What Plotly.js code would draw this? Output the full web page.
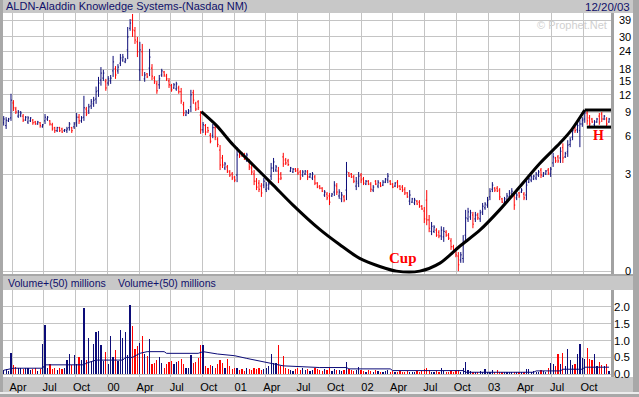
<!DOCTYPE html>
<html>
<head>
<meta charset="utf-8">
<script src="https://cdn.plot.ly/plotly-3.0.1.min.js"></script>
<style>html,body{margin:0;padding:0;background:#c8c8c8;}#chart{width:639px;height:397px;}</style>
</head>
<body>
<div id="chart"></div>
<script>
// ---- data (weekly bars) ----
const firstWeek = Date.UTC(1999, 2, 8);
const open = [7.55,7.2,7.8,8.2,10.5,9.5,8.45,8.6,8.45,7.9,7.65,7.8,7.9,7.65,7.4,7.55,7.05,7.8,8.05,7.8,7.3,6.95,6.6,6.95,6.8,6.6,6.6,6.95,6.95,7.05,7.55,8.3,7.8,8.3,9.5,9.2,10.0,10.35,11.2,12.8,15.2,15.7,14.8,14.5,15.0,17.6,18.2,17.6,19.9,20.9,20.3,24.5,34.3,39.0,33.0,27.8,17.9,23.8,15.5,16.8,18.4,18.4,15.7,14.3,14.1,16.5,17.3,16.2,15.0,13.9,13.4,13.2,13.4,12.6,10.2,8.6,8.9,9.85,12.4,10.35,10.7,8.6,6.7,7.2,6.95,6.1,6.1,6.95,5.7,4.7,4.07,3.37,3.44,3.12,3.0,2.83,2.94,4.55,4.47,4.3,3.92,3.78,3.37,3.0,2.6,2.5,2.35,2.4,2.2,2.25,2.88,3.37,3.24,3.18,3.0,4.15,3.92,3.85,3.18,3.12,3.3,3.24,3.12,2.94,3.0,3.12,2.83,2.77,2.83,2.5,2.35,2.25,1.94,1.98,1.9,1.9,2.07,2.35,1.9,1.78,1.86,2.16,3.06,3.0,2.83,2.35,2.5,2.94,2.72,2.45,2.6,2.45,2.16,2.6,2.35,2.5,2.4,2.55,2.66,2.6,2.45,2.35,2.55,2.35,2.3,2.2,2.03,1.69,1.65,1.62,1.69,1.65,1.5,1.33,1.73,1.05,0.74,0.74,0.77,0.72,0.63,0.61,0.72,0.65,0.52,0.4,0.34,0.23,0.165,0.19,0.65,1.08,1.14,1.2,1.08,1.2,1.08,1.3,1.44,1.54,1.86,2.2,2.25,2.25,2.16,1.78,1.62,1.73,1.86,1.98,1.9,1.82,2.03,2.07,1.98,1.94,2.55,2.66,2.72,2.77,2.94,3.24,2.88,3.0,3.24,3.0,3.71,4.07,4.15,4.07,4.9,4.15,4.55,5.2,5.9,6.95,6.7,6.6,7.4,8.05,8.9,8.2,8.05,7.3,7.65,8.45,8.75,8.05,8.05,7.65];
const high = [8.45,8.3,8.2,12.2,11.0,9.85,9.35,9.2,8.75,8.45,8.45,8.3,8.05,7.8,7.8,7.65,7.4,8.75,8.45,7.9,7.55,7.05,7.05,7.05,6.95,6.8,7.05,7.65,7.05,7.65,8.9,8.75,8.45,11.8,9.85,10.35,11.2,11.6,13.7,16.0,18.7,17.9,15.5,16.2,16.5,22.3,19.0,19.6,23.0,23.0,21.6,35.0,39.6,42.8,35.0,30.0,27.8,26.9,17.3,17.0,24.9,19.6,16.2,15.0,16.5,18.2,17.6,16.8,15.7,14.3,14.5,14.8,13.9,13.4,10.7,9.35,9.5,13.0,13.0,10.7,11.0,9.2,7.65,7.4,7.05,6.35,7.4,7.3,5.9,5.14,4.3,3.78,3.57,3.24,3.12,2.88,4.95,4.7,4.55,4.47,4.47,4.0,3.57,3.24,2.77,2.66,2.5,2.77,2.55,2.55,3.71,4.07,3.57,3.44,3.12,4.47,4.07,4.0,3.44,3.37,3.37,3.37,3.24,3.24,3.24,3.24,3.06,3.12,2.94,2.55,2.4,2.3,2.16,2.07,2.03,2.03,2.6,2.5,2.2,2.07,1.94,3.78,3.12,3.06,2.94,2.83,3.12,3.06,2.83,2.66,2.66,2.55,2.4,2.66,2.66,2.55,2.66,2.77,3.06,2.66,2.5,2.55,2.66,2.4,2.4,2.3,2.07,2.16,1.82,1.82,1.73,1.73,1.54,1.47,2.16,1.2,0.99,0.9,0.82,0.77,0.87,0.85,0.77,0.7,0.58,0.44,0.38,0.3,0.3,0.65,1.37,1.44,1.37,1.3,1.3,1.27,1.37,1.62,1.65,1.86,2.25,2.55,2.3,2.35,2.25,1.82,1.86,2.03,2.16,2.25,2.07,2.03,2.07,2.25,2.07,2.66,2.77,2.94,2.94,3.12,3.24,3.37,3.12,3.24,3.37,3.44,4.47,4.15,4.3,4.95,5.3,4.55,5.6,5.9,6.95,7.05,7.55,7.9,8.3,9.35,9.35,8.6,8.2,7.9,8.2,8.9,9.05,8.6,8.3,8.2];
const low = [7.2,6.8,7.65,7.8,9.2,8.75,8.2,8.3,7.65,7.8,7.4,7.65,7.3,7.3,7.3,6.95,6.95,7.4,7.8,7.2,6.6,6.35,6.45,6.45,6.35,6.45,6.35,6.6,6.35,6.8,7.05,7.4,7.55,7.8,8.45,8.75,9.5,9.85,10.35,11.6,13.9,15.0,12.8,13.9,14.3,16.0,15.5,16.8,19.0,20.3,19.9,21.2,33.0,30.0,26.9,21.9,15.0,16.2,14.8,15.7,16.2,15.2,14.3,12.2,13.2,16.0,16.0,15.0,13.4,12.6,13.2,12.8,12.2,10.35,8.45,8.45,8.75,9.05,10.35,9.2,9.35,6.25,6.35,6.1,6.35,5.3,5.8,5.6,4.95,3.24,3.37,3.24,3.06,2.83,2.66,2.55,2.55,4.07,4.15,3.92,3.78,3.24,2.94,2.4,2.16,2.07,1.86,2.25,2.07,2.16,2.66,3.12,3.12,2.5,2.66,3.44,3.57,3.5,3.12,3.06,3.12,2.94,2.66,2.83,2.94,2.66,2.77,2.66,2.4,2.25,2.2,2.07,1.86,1.73,1.54,1.86,1.9,1.94,1.78,1.65,1.65,1.73,2.83,2.77,2.5,2.16,2.3,2.5,2.4,2.4,2.4,2.07,2.07,2.4,2.25,2.3,2.35,2.5,2.5,2.4,2.25,2.3,2.25,2.16,2.07,1.94,1.82,1.54,1.62,1.54,1.54,1.44,1.37,0.96,0.9,0.72,0.65,0.7,0.61,0.58,0.54,0.5,0.61,0.54,0.34,0.3,0.21,0.0,0.12,0.12,0.5,0.99,1.05,0.82,0.99,1.05,0.99,1.2,1.37,1.44,1.73,2.07,2.07,2.07,1.73,1.62,1.54,1.62,1.73,1.86,1.37,1.73,1.82,2.03,1.73,1.73,2.5,2.55,2.66,2.66,2.83,2.77,2.83,2.94,2.94,2.83,3.44,3.71,3.71,3.71,3.71,4.07,4.15,4.95,5.6,6.35,6.35,4.95,7.05,7.55,7.3,7.05,7.55,7.05,7.55,7.3,7.65,7.9,7.05,7.55];
const close = [8.05,7.9,8.05,11.0,9.7,9.05,9.05,8.9,7.9,8.3,8.2,8.2,7.55,7.4,7.65,7.2,7.3,8.3,8.3,7.4,6.8,6.6,6.95,6.6,6.45,6.7,6.8,7.4,6.6,7.4,8.3,7.8,8.2,9.7,8.75,9.85,10.7,11.0,12.6,14.5,17.0,17.0,13.4,15.5,15.7,20.3,16.5,18.7,21.6,21.9,20.9,30.0,37.2,33.4,28.6,23.8,24.5,17.9,16.5,16.0,21.9,16.2,14.8,12.8,15.5,17.6,16.5,15.5,14.1,13.0,14.1,14.3,12.6,10.85,8.9,9.05,9.2,12.0,11.0,9.5,9.7,6.7,7.3,6.45,6.6,5.5,6.95,5.9,5.2,3.57,3.57,3.64,3.18,2.94,2.77,2.66,4.3,4.22,4.22,4.07,4.3,3.44,3.12,2.6,2.3,2.2,2.03,2.6,2.4,2.45,3.37,3.78,3.44,2.72,2.77,3.64,3.71,3.6,3.37,3.3,3.18,3.06,2.77,3.12,3.18,2.83,3.0,3.0,2.5,2.3,2.25,2.11,2.07,1.82,1.65,1.98,2.4,2.07,2.07,1.94,1.73,3.12,2.88,2.83,2.6,2.6,2.88,2.66,2.5,2.6,2.45,2.2,2.3,2.45,2.55,2.35,2.55,2.72,2.88,2.45,2.3,2.5,2.35,2.2,2.16,2.03,1.86,1.94,1.78,1.73,1.58,1.5,1.4,1.08,1.05,0.82,0.87,0.85,0.65,0.63,0.77,0.74,0.65,0.58,0.4,0.34,0.25,0.09,0.25,0.48,1.11,1.3,1.27,0.93,1.2,1.11,1.27,1.5,1.58,1.73,2.11,2.4,2.16,2.11,1.86,1.65,1.78,1.9,2.03,2.11,1.54,1.94,1.9,2.16,1.82,2.4,2.72,2.83,2.88,3.0,3.12,2.94,3.06,3.18,3.06,3.3,4.15,3.85,3.85,4.6,4.07,4.4,5.14,5.6,6.6,6.6,7.2,7.4,7.9,8.9,7.8,7.4,7.65,7.65,8.05,7.65,8.05,8.45,7.4,8.05];
const volume = [0.12,0.15,0.10,0.63,0.28,0.22,0.18,0.20,0.15,0.18,0.20,0.12,0.15,0.18,0.10,0.15,
0.90,1.46,0.20,0.30,0.15,0.20,0.12,0.18,0.15,0.20,0.42,0.60,0.28,0.57,0.30,0.50,
0.42,1.96,0.42,1.07,0.40,0.90,1.26,1.28,0.86,0.40,0.67,0.30,1.14,0.50,0.72,0.40,
1.30,1.07,1.26,0.57,2.05,1.43,0.75,0.85,0.93,1.14,0.60,0.55,1.04,0.30,0.33,0.42,
0.50,0.33,0.20,0.30,0.35,0.40,0.30,0.35,0.38,0.45,0.30,0.20,0.20,0.57,0.33,0.37,
0.47,0.87,0.87,0.25,0.20,0.28,0.25,0.20,0.30,0.42,0.33,0.20,0.45,0.25,0.15,0.18,
0.20,0.12,0.15,0.10,0.18,0.15,0.12,0.20,0.15,0.18,0.12,0.15,0.20,0.25,0.60,0.33,
0.33,0.87,0.25,0.55,0.18,0.15,0.12,0.10,0.15,0.18,0.12,0.20,0.12,0.15,0.10,0.12,
0.18,0.15,0.12,0.10,0.15,0.12,0.18,0.10,0.15,0.12,0.14,0.10,0.12,0.37,0.15,0.12,
0.10,0.14,0.22,0.12,0.10,0.08,0.12,0.10,0.08,0.12,0.10,0.08,0.06,0.10,0.12,0.08,
0.10,0.07,0.08,0.10,0.06,0.08,0.10,0.08,0.06,0.07,0.09,0.08,0.10,0.15,0.20,0.12,
0.08,0.06,0.10,0.08,0.19,0.10,0.07,0.06,0.09,0.08,0.10,0.12,0.08,0.20,0.37,0.12,
0.10,0.08,0.06,0.07,0.10,0.08,0.15,0.06,0.08,0.12,0.07,0.12,0.06,0.08,0.07,0.06,
0.07,0.06,0.08,0.06,0.07,0.08,0.06,0.15,0.17,0.08,0.10,0.06,0.08,0.12,0.10,0.08,
0.20,0.33,0.30,0.25,0.60,0.30,0.62,0.25,0.75,0.42,0.28,0.30,0.60,0.90,0.49,0.45,
0.79,0.45,0.42,0.60,0.25,0.35,0.28,0.25,0.30,0.10];
// 50-period volume average, sampled at week numbers
const maWeek = [0,4,16,17,33,34,38,49,50,53,56,59,66,67,80,82,88,95,100,107,115,130,141,142,159,160,189,190,218,219,229,230,238,239,249];
const maValue = [0.12,0.18,0.18,0.28,0.28,0.33,0.42,0.42,0.50,0.50,0.62,0.67,0.67,0.62,0.62,0.67,0.60,0.55,0.47,0.36,0.25,0.20,0.20,0.16,0.16,0.11,0.11,0.06,0.06,0.10,0.10,0.15,0.15,0.21,0.21];
// cup-and-handle drawing
const cupDates = ['2000-09-27','2000-11-10','2000-12-28','2001-02-23','2001-04-22','2001-06-18','2001-09-03','2001-10-31','2001-12-27','2002-02-23','2002-04-12','2002-06-18','2002-08-15','2002-10-11','2002-12-08','2003-02-03','2003-04-02','2003-05-30','2003-07-26','2003-08-29','2003-10-06'];
const cupPrices = [9.1,7.2,5.14,3.57,2.40,1.54,0.79,0.44,0.19,0.065,0.0,0.0,0.115,0.41,0.77,1.37,2.32,3.69,5.3,6.7,9.35];
const handleTopDates = ['2003-10-06','2003-12-22'];
const handleTopPrices = [9.35,9.35];
const handleLowDates = ['2003-10-12','2003-12-22'];
const handleLowPrices = [7.02,7.02];
// axes
const quarterDates = ['1999-04-01','1999-07-01','1999-10-01','2000-01-01','2000-04-01','2000-07-01','2000-10-01','2001-01-01','2001-04-01','2001-07-01','2001-10-01','2002-01-01','2002-04-01','2002-07-01','2002-10-01','2003-01-01','2003-04-01','2003-07-01','2003-10-01'];
const quarterLabels = ['Apr','Jul','Oct','00','Apr','Jul','Oct','01','Apr','Jul','Oct','02','Apr','Jul','Oct','03','Apr','Jul','Oct'];
const priceTicks = [39,30,24,18,15,12,9,6,3,0];
const priceTickText = ['39','30','24','18','15','12','\u20079','\u20076','\u20073','\u20070'];
const volTicks = [0,0.5,1,1.5,2];
const volTickText = ['0.0','0.5','1.0','1.5','2.0'];

// ---- drawing ----
const OFFSET = 0.9; // the price axis is logarithmic in (price + 0.9)
const NAVY = '#0c0c78', RED = '#ff0000', GRID = '#c4c4c4';
const FONT = 'Liberation Sans, Arial, sans-serif';
const weekDate = i => new Date(firstWeek + i * 7 * 86400000).toISOString().slice(0, 10);
const dates = close.map((_, i) => weekDate(i));
const sh = v => v + OFFSET;
const volColors = close.map((c, i) => c >= open[i] ? NAVY : RED);
const xRange = ['1999-03-06', '2003-12-20 14:00'];

const traces = [
  {type:'ohlc', x:dates, open:open.map(sh), high:high.map(sh), low:low.map(sh), close:close.map(sh),
   xaxis:'x', yaxis:'y', tickwidth:0.4, hoverinfo:'skip', showlegend:false,
   increasing:{line:{color:NAVY, width:1}}, decreasing:{line:{color:RED, width:1}}},
  {type:'scatter', mode:'lines', x:cupDates, y:cupPrices.map(sh), xaxis:'x', yaxis:'y',
   line:{color:'#000', width:3, shape:'spline', smoothing:0.8}, hoverinfo:'skip', showlegend:false},
  {type:'scatter', mode:'lines', x:handleTopDates, y:handleTopPrices.map(sh), xaxis:'x', yaxis:'y',
   line:{color:'#000', width:3}, hoverinfo:'skip', showlegend:false},
  {type:'scatter', mode:'lines', x:handleLowDates, y:handleLowPrices.map(sh), xaxis:'x', yaxis:'y',
   line:{color:'#000', width:3}, hoverinfo:'skip', showlegend:false},
  {type:'bar', x:dates, y:volume, xaxis:'x2', yaxis:'y2', width:3.6*86400000,
   marker:{color:volColors, line:{width:0}}, hoverinfo:'skip', showlegend:false},
  {type:'scatter', mode:'lines', x:maWeek.map(weekDate), y:maValue, xaxis:'x2', yaxis:'y2',
   line:{color:NAVY, width:1}, hoverinfo:'skip', showlegend:false}
];

// paper coordinates helpers (plot area: x 3..611 px, y 13..377 px)
const px = p => (p - 3) / 608;
const py = p => (377 - p) / 364;

const shapes = [
  {type:'rect', xref:'paper', yref:'paper', x0:px(614), x1:px(633), y0:py(274), y1:py(13), fillcolor:'#ffffff', line:{width:0}, layer:'below'},
  {type:'rect', xref:'paper', yref:'paper', x0:px(614), x1:px(633), y0:py(377), y1:py(290), fillcolor:'#ffffff', line:{width:0}, layer:'below'},
  {type:'rect', xref:'paper', yref:'paper', x0:px(611), x1:px(614), y0:py(274), y1:py(13), fillcolor:'#a2a2a2', line:{width:0}, layer:'below'},
  {type:'rect', xref:'paper', yref:'paper', x0:px(611), x1:px(614), y0:py(377), y1:py(290), fillcolor:'#a2a2a2', line:{width:0}, layer:'below'},
  {type:'rect', xref:'paper', yref:'paper', x0:px(0), x1:px(3), y0:py(397), y1:py(0), fillcolor:'#a8a8a8', line:{width:0}, layer:'below'},
  {type:'rect', xref:'paper', yref:'paper', x0:px(633), x1:px(639), y0:py(397), y1:py(0), fillcolor:'#a8a8a8', line:{width:0}, layer:'below'},
  {type:'rect', xref:'paper', yref:'paper', x0:px(0), x1:px(639), y0:py(276), y1:py(274), fillcolor:'#a8a8a8', line:{width:0}, layer:'below'},
  {type:'rect', xref:'paper', yref:'paper', x0:px(0), x1:px(639), y0:py(394), y1:py(392), fillcolor:'#ececec', line:{width:0}, layer:'below'},
  {type:'rect', xref:'paper', yref:'paper', x0:px(0), x1:px(639), y0:py(397), y1:py(394), fillcolor:'#a8a8a8', line:{width:0}, layer:'below'}
];

const annotations = [
  {xref:'paper', yref:'paper', x:px(632), y:py(6.5), xanchor:'right', yanchor:'middle', showarrow:false,
   text:'12/20/03', font:{family:FONT, size:11.5, color:'#10106a'}},
  {xref:'paper', yref:'paper', x:px(609), y:py(25), xanchor:'right', yanchor:'middle', showarrow:false,
   text:'\u00a9 Prophet.Net', font:{family:FONT, size:11, color:'#d0d0d0'}},
  {xref:'paper', yref:'paper', x:px(6), y:py(283), xanchor:'left', yanchor:'middle', showarrow:false,
   text:'Volume+(50) millions', font:{family:FONT, size:10.5, color:'#10106a'}},
  {xref:'paper', yref:'paper', x:px(116), y:py(283), xanchor:'left', yanchor:'middle', showarrow:false,
   text:'Volume+(50) millions', font:{family:FONT, size:10.5, color:'#10106a'}},
  {xref:'paper', yref:'paper', x:px(403), y:py(258), xanchor:'center', yanchor:'middle', showarrow:false,
   text:'<b>Cup</b>', font:{family:'Liberation Serif, Times New Roman, serif', size:15, color:RED}},
  {xref:'paper', yref:'paper', x:px(598), y:py(135), xanchor:'center', yanchor:'middle', showarrow:false,
   text:'<b>H</b>', font:{family:'Liberation Serif, Times New Roman, serif', size:14, color:RED}}
];

const commonX = {type:'date', range:xRange, tickvals:quarterDates, showgrid:true, gridcolor:GRID, gridwidth:1,
  zeroline:false, showline:false, ticks:'', fixedrange:true};

const layout = {
  width:639, height:397,
  margin:{l:3, r:28, t:13, b:20, pad:0},
  paper_bgcolor:'#c8c8c8', plot_bgcolor:'#ffffff',
  showlegend:false, hovermode:false, bargap:0,
  title:{text:'ALDN-Aladdin Knowledge Systems-(Nasdaq NM)', xref:'container', x:6/639, xanchor:'left',
         yref:'container', y:1 - 6.5/397, yanchor:'middle', pad:{t:0,b:0,l:0,r:0},
         font:{family:FONT, size:11, color:'#10106a'}},
  xaxis:Object.assign({}, commonX, {domain:[0,1], anchor:'y', showticklabels:false, rangeslider:{visible:false}}),
  xaxis2:Object.assign({}, commonX, {domain:[0,1], anchor:'y2', ticktext:quarterLabels, ticklabelshift:6,
         ticklabelstandoff:2, tickfont:{family:FONT, size:11, color:'#000'}}),
  yaxis:{domain:[py(274), 1], anchor:'x', type:'log', range:[-0.0646, 1.6469], side:'right',
         tickvals:priceTicks.map(sh), ticktext:priceTickText, ticks:'', ticklabelstandoff:7,
         tickfont:{family:FONT, size:11, color:'#000'}, showgrid:true, gridcolor:GRID, zeroline:false, showline:false, fixedrange:true},
  yaxis2:{domain:[0, py(290)], anchor:'x2', range:[-0.08, 2.494], side:'right',
         tickvals:volTicks, ticktext:volTickText, ticks:'', ticklabelstandoff:2,
         tickfont:{family:FONT, size:11.5, color:'#000'}, showgrid:true, gridcolor:GRID, zeroline:false, showline:false, fixedrange:true},
  shapes:shapes,
  annotations:annotations
};

Plotly.newPlot('chart', traces, layout, {staticPlot:true, displayModeBar:false});
</script>
</body>
</html>
